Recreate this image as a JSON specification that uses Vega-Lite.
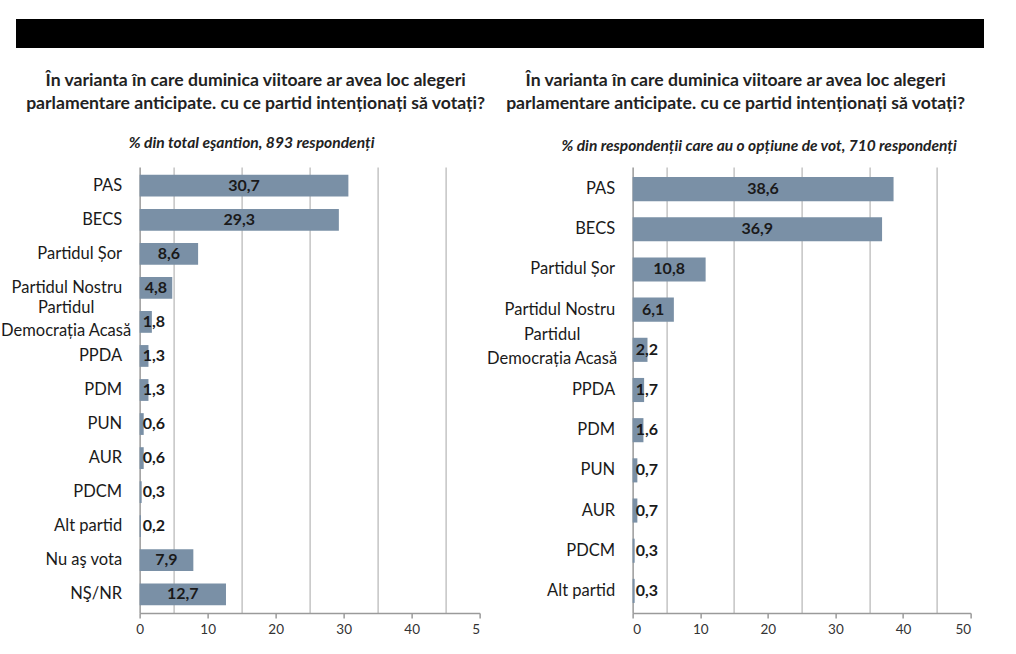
{
  "$schema": "https://vega.github.io/schema/vega-lite/v6.json",
  "padding": {"left": 0, "top": 19, "right": 0, "bottom": 0},
  "background": "white",
  "config": {
    "locale": {"number": {"decimal": ",", "thousands": ".", "grouping": [3], "currency": ["", ""]}},
    "view": {"stroke": null},
    "font": "Lato",
    "axis": {"labelFont": "Lato", "titleFont": "Lato"},
    "title": {"font": "Lato"}
  },
  "datasets": {
    "total": [
      {"party": "PAS", "pct": 30.7},
      {"party": "BECS", "pct": 29.3},
      {"party": "Partidul Șor", "pct": 8.6},
      {"party": "Partidul Nostru", "pct": 4.8},
      {"party": "Partidul Democrația Acasă", "pct": 1.8},
      {"party": "PPDA", "pct": 1.3},
      {"party": "PDM", "pct": 1.3},
      {"party": "PUN", "pct": 0.6},
      {"party": "AUR", "pct": 0.6},
      {"party": "PDCM", "pct": 0.3},
      {"party": "Alt partid", "pct": 0.2},
      {"party": "Nu aş vota", "pct": 7.9},
      {"party": "NŞ/NR", "pct": 12.7}
    ],
    "optiune": [
      {"party": "PAS", "pct": 38.6},
      {"party": "BECS", "pct": 36.9},
      {"party": "Partidul Șor", "pct": 10.8},
      {"party": "Partidul Nostru", "pct": 6.1},
      {"party": "Partidul Democrația Acasă", "pct": 2.2},
      {"party": "PPDA", "pct": 1.7},
      {"party": "PDM", "pct": 1.6},
      {"party": "PUN", "pct": 0.7},
      {"party": "AUR", "pct": 0.7},
      {"party": "PDCM", "pct": 0.3},
      {"party": "Alt partid", "pct": 0.3}
    ]
  },
  "spacing": 24,
  "center": true,
  "vconcat": [
    {
      "width": 968,
      "height": 29,
      "data": {"values": [{"k": "band"}]},
      "mark": {"type": "rect", "color": "#000000"},
      "encoding": {
        "y": {
          "field": "k",
          "type": "nominal",
          "scale": {"paddingInner": 0, "paddingOuter": 0},
          "axis": null
        }
      }
    },
    {
      "bounds": "flush",
      "spacing": 0,
      "hconcat": [
        {
          "width": 111,
          "height": 1,
          "data": {"values": []},
          "mark": {"type": "point", "opacity": 0},
          "encoding": {}
        },
        {
          "bounds": "flush",
          "spacing": 153,
          "hconcat": [
            {
              "width": 340,
              "height": 446,
              "data": {"name": "total"},
              "title": {
                "text": ["În varianta în care duminica viitoare ar avea loc alegeri", "parlamentare anticipate. cu ce partid intenționați să votați?"],
                "anchor": "middle",
                "frame": "group",
                "dx": -54,
                "fontSize": 17.6,
                "fontWeight": "bold",
                "color": "#222222",
                "lineHeight": 23,
                "offset": 22
              },
              "encoding": {
                "y": {
                  "field": "party",
                  "type": "nominal",
                  "sort": null,
                  "scale": {"paddingInner": 0.36, "paddingOuter": 0.23},
                  "axis": {
                    "title": null,
                    "ticks": false,
                    "domainColor": "#9a9a9a",
                    "domainWidth": 1.5,
                    "labelFontSize": 16.5,
                    "labelColor": "#1a1a1a",
                    "labelLimit": 300,
                    "labelLineHeight": 23,
                    "labelExpr": "datum.value == 'Partidul Democrația Acasă' ? ['Partidul', 'Democrația Acasă'] : datum.label",
                    "labelAlign": {"condition": {"test": "datum.value == 'Partidul Democrația Acasă'", "value": "center"}, "value": "right"},
                    "labelPadding": {"condition": {"test": "datum.value == 'Partidul Democrația Acasă'", "value": 74}, "value": 18},
                    "labelOffset": {"condition": {"test": "datum.value == 'Partidul Democrația Acasă'", "value": -14}, "value": 0}
                  }
                }
              },
              "layer": [
                {
                  "mark": {"type": "bar", "color": "#7a90a6"},
                  "encoding": {
                    "x": {
                      "field": "pct",
                      "type": "quantitative",
                      "scale": {"domain": [0, 50]},
                      "axis": {
                        "orient": "bottom",
                        "values": [0, 10, 20, 30, 40, 50],
                        "grid": false,
                        "title": null,
                        "domainColor": "#9a9a9a",
                        "domainWidth": 1.5,
                        "tickColor": "#9a9a9a",
                        "tickWidth": 1.5,
                        "tickSize": 5,
                        "labelFontSize": 13.5,
                        "labelColor": "#333333",
                        "labelPadding": 4,
                        "labelExpr": "datum.value == 50 ? '5' : datum.label",
                        "labelAlign": {"condition": {"test": "datum.value == 50", "value": "right"}, "value": "center"}
                      }
                    }
                  }
                },
                {
                  "transform": [{"filter": "datum.pct >= 4"}],
                  "mark": {"type": "text", "fontWeight": "bold", "fontSize": 16, "color": "#1a1a1a"},
                  "encoding": {
                    "x": {
                      "field": "pct",
                      "type": "quantitative",
                      "stack": "zero",
                      "bandPosition": 0.5,
                      "axis": {
                        "orient": "top",
                        "values": [5, 15, 25, 35, 45],
                        "grid": true,
                        "gridColor": "#c4c4c4",
                        "gridWidth": 1.5,
                        "labels": false,
                        "ticks": false,
                        "domain": false,
                        "title": "% din total eşantion, 893 respondenți",
                        "titleFontSize": 15.6,
                        "titleFontStyle": "italic",
                        "titleFontWeight": "bold",
                        "titleColor": "#222222",
                        "titleX": 111.5,
                        "titleAlign": "center",
                        "titlePadding": 17
                      }
                    },
                    "text": {"field": "pct", "type": "quantitative", "format": ".1f"}
                  }
                },
                {
                  "transform": [{"filter": "datum.pct < 4"}],
                  "mark": {"type": "text", "fontWeight": "bold", "fontSize": 16, "color": "#1a1a1a", "align": "left", "dx": 3},
                  "encoding": {
                    "x": {"datum": 0, "type": "quantitative", "axis": null},
                    "text": {"field": "pct", "type": "quantitative", "format": ".1f"}
                  }
                }
              ],
              "resolve": {"axis": {"x": "independent"}}
            },
            {
              "width": 338,
              "height": 446,
              "data": {"name": "optiune"},
              "title": {
                "text": ["În varianta în care duminica viitoare ar avea loc alegeri", "parlamentare anticipate. cu ce partid intenționați să votați?"],
                "anchor": "middle",
                "frame": "group",
                "dx": -66,
                "fontSize": 17.6,
                "fontWeight": "bold",
                "color": "#222222",
                "lineHeight": 23,
                "offset": 25
              },
              "encoding": {
                "y": {
                  "field": "party",
                  "type": "nominal",
                  "sort": null,
                  "scale": {"paddingInner": 0.4, "paddingOuter": 0.25},
                  "axis": {
                    "title": null,
                    "ticks": false,
                    "domainColor": "#9a9a9a",
                    "domainWidth": 1.5,
                    "labelFontSize": 16.5,
                    "labelColor": "#1a1a1a",
                    "labelLimit": 300,
                    "labelLineHeight": 24,
                    "labelExpr": "datum.value == 'Partidul Democrația Acasă' ? ['Partidul', 'Democrația Acasă'] : datum.label",
                    "labelAlign": {"condition": {"test": "datum.value == 'Partidul Democrația Acasă'", "value": "center"}, "value": "right"},
                    "labelPadding": {"condition": {"test": "datum.value == 'Partidul Democrația Acasă'", "value": 81}, "value": 18},
                    "labelOffset": {"condition": {"test": "datum.value == 'Partidul Democrația Acasă'", "value": -14.5}, "value": 0}
                  }
                }
              },
              "layer": [
                {
                  "mark": {"type": "bar", "color": "#7a90a6"},
                  "encoding": {
                    "x": {
                      "field": "pct",
                      "type": "quantitative",
                      "scale": {"domain": [0, 50]},
                      "axis": {
                        "orient": "bottom",
                        "values": [0, 10, 20, 30, 40, 50],
                        "grid": false,
                        "title": null,
                        "domainColor": "#9a9a9a",
                        "domainWidth": 1.5,
                        "tickColor": "#9a9a9a",
                        "tickWidth": 1.5,
                        "tickSize": 5,
                        "labelFontSize": 13.5,
                        "labelColor": "#333333",
                        "labelPadding": 4
                      }
                    }
                  }
                },
                {
                  "transform": [{"filter": "datum.pct >= 4"}],
                  "mark": {"type": "text", "fontWeight": "bold", "fontSize": 16, "color": "#1a1a1a"},
                  "encoding": {
                    "x": {
                      "field": "pct",
                      "type": "quantitative",
                      "stack": "zero",
                      "bandPosition": 0.5,
                      "axis": {
                        "orient": "top",
                        "values": [5, 15, 25, 35, 45],
                        "grid": true,
                        "gridColor": "#c4c4c4",
                        "gridWidth": 1.5,
                        "labels": false,
                        "ticks": false,
                        "domain": false,
                        "title": "% din respondenții care au o opțiune de vot, 710 respondenți",
                        "titleFontSize": 15.5,
                        "titleFontStyle": "italic",
                        "titleFontWeight": "bold",
                        "titleColor": "#222222",
                        "titleX": 126,
                        "titleAlign": "center",
                        "titlePadding": 14
                      }
                    },
                    "text": {"field": "pct", "type": "quantitative", "format": ".1f"}
                  }
                },
                {
                  "transform": [{"filter": "datum.pct < 4"}],
                  "mark": {"type": "text", "fontWeight": "bold", "fontSize": 16, "color": "#1a1a1a", "align": "left", "dx": 3},
                  "encoding": {
                    "x": {"datum": 0, "type": "quantitative", "axis": null},
                    "text": {"field": "pct", "type": "quantitative", "format": ".1f"}
                  }
                }
              ],
              "resolve": {"axis": {"x": "independent"}}
            }
          ]
        }
      ]
    }
  ]
}
